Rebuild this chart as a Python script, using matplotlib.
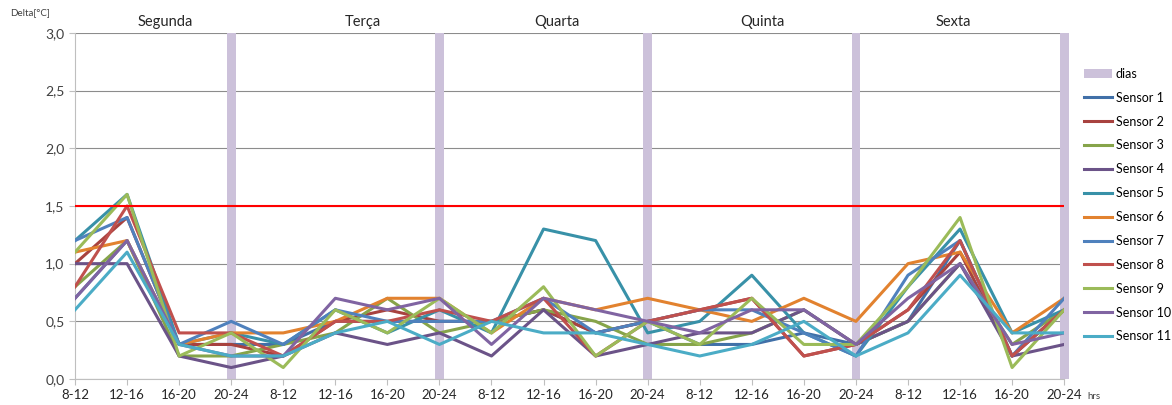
import matplotlib
matplotlib.use("Agg")
import matplotlib.pyplot as plt
import numpy as np

plt.rcParams['font.family'] = ['Lato', 'DejaVu Sans']

# Faixas horárias (4 por dia) e dias da semana
horas = ['8-12', '12-16', '16-20', '20-24']
dias = ['Segunda', 'Terça', 'Quarta', 'Quinta', 'Sexta']
categorias = horas * len(dias)

# Delta de temperatura por sensor [°C]
sensor_1 = [0.7, 1.2, 0.3, 0.3, 0.3, 0.5, 0.5, 0.5, 0.5, 0.6, 0.4, 0.5, 0.3, 0.3, 0.4, 0.3, 0.5, 1.2, 0.2, 0.6]
sensor_2 = [1.0, 1.4, 0.3, 0.3, 0.2, 0.5, 0.6, 0.5, 0.5, 0.6, 0.4, 0.5, 0.6, 0.7, 0.2, 0.3, 0.6, 1.1, 0.2, 0.6]
sensor_3 = [0.8, 1.2, 0.2, 0.2, 0.3, 0.4, 0.7, 0.4, 0.5, 0.6, 0.5, 0.3, 0.3, 0.4, 0.6, 0.3, 0.5, 1.0, 0.3, 0.6]
sensor_4 = [1.0, 1.0, 0.2, 0.1, 0.2, 0.4, 0.3, 0.4, 0.2, 0.6, 0.2, 0.3, 0.4, 0.4, 0.6, 0.3, 0.5, 1.0, 0.2, 0.3]
sensor_5 = [1.2, 1.6, 0.3, 0.4, 0.3, 0.6, 0.4, 0.6, 0.4, 1.3, 1.2, 0.4, 0.5, 0.9, 0.4, 0.2, 0.8, 1.3, 0.4, 0.6]
sensor_6 = [1.1, 1.2, 0.3, 0.4, 0.4, 0.5, 0.7, 0.7, 0.4, 0.7, 0.6, 0.7, 0.6, 0.5, 0.7, 0.5, 1.0, 1.1, 0.4, 0.7]
sensor_7 = [1.2, 1.4, 0.3, 0.5, 0.3, 0.6, 0.5, 0.5, 0.5, 0.7, 0.4, 0.5, 0.6, 0.6, 0.4, 0.2, 0.9, 1.2, 0.2, 0.7]
sensor_8 = [0.8, 1.5, 0.4, 0.4, 0.2, 0.5, 0.5, 0.6, 0.5, 0.7, 0.2, 0.5, 0.6, 0.7, 0.2, 0.3, 0.6, 1.2, 0.2, 0.6]
sensor_9 = [1.1, 1.6, 0.2, 0.4, 0.1, 0.6, 0.4, 0.7, 0.4, 0.8, 0.2, 0.5, 0.3, 0.7, 0.3, 0.3, 0.8, 1.4, 0.1, 0.6]
sensor_10 = [0.7, 1.2, 0.3, 0.2, 0.2, 0.7, 0.6, 0.7, 0.3, 0.7, 0.6, 0.5, 0.4, 0.6, 0.6, 0.3, 0.7, 1.0, 0.3, 0.4]
sensor_11 = [0.6, 1.1, 0.3, 0.2, 0.2, 0.4, 0.5, 0.3, 0.5, 0.4, 0.4, 0.3, 0.2, 0.3, 0.5, 0.2, 0.4, 0.9, 0.4, 0.4]

sensores = [sensor_1, sensor_2, sensor_3, sensor_4, sensor_5, sensor_6,
            sensor_7, sensor_8, sensor_9, sensor_10, sensor_11]
cores = ['#4170A8', '#A8423F', '#86A44A', '#6B5388', '#3891A8', '#E2822F',
         '#4F81BD', '#C0504D', '#9BBB59', '#8064A2', '#4BACC6']

limite = 1.5      # limite admissível
altura_dias = 3.0  # barras separadoras dos dias
yticks = [0.0, 0.5, 1.0, 1.5, 2.0, 2.5, 3.0]

x = np.arange(len(categorias))

fig = plt.figure(figsize=(11.72, 4.05), dpi=100)
ax = fig.add_axes([0.064, 0.064, 0.844, 0.855])

# separadores dos dias (barras no 20-24)
pos_dias = [i for i in x if categorias[i] == '20-24']
barras = ax.bar(pos_dias, [altura_dias] * len(pos_dias), width=0.17, color='#CCC1DA',
                label='dias', zorder=1, clip_on=False)

linhas = []
for k, (s, c) in enumerate(zip(sensores, cores)):
    l, = ax.plot(x, s, color=c, lw=2.2, label='Sensor %d' % (k + 1), zorder=3)
    linhas.append(l)

ax.axhline(limite, color='#FF0000', lw=1.5, zorder=4)

ax.set_xlim(0, len(categorias) - 1)
ax.set_ylim(0, 3.0)
ax.set_yticks(yticks)
ax.set_yticklabels([('%.1f' % v).replace('.', ',') for v in yticks])
ax.set_xticks(x)
ax.set_xticklabels(categorias, fontsize=9.5)
ax.tick_params(axis='y', labelsize=10, length=4, color='#BFBFBF', labelcolor='#404040')
ax.tick_params(axis='x', length=4, color='#BFBFBF', labelcolor='#262626')
ax.yaxis.grid(True, color='#8C8C8C', lw=0.8, zorder=0)
ax.set_axisbelow(True)
for lado in ['right', 'top']:
    ax.spines[lado].set_visible(False)
for lado in ['left', 'bottom']:
    ax.spines[lado].set_color('#BFBFBF')

# nomes dos dias acima do gráfico
pos_nomes = [1.73, 5.53, 9.26, 13.2, 16.87]
for p, d in zip(pos_nomes, dias):
    ax.text(p, 3.03, d, ha='center', va='bottom', fontsize=10.5, color='#262626')

fig.text(0.009, 0.97, 'Delta[°C]', fontsize=7, color='#404040', va='center')
fig.text(0.928, 0.022, 'hrs', fontsize=7, color='#404040', va='center')

fig.legend([barras] + linhas, ['dias'] + ['Sensor %d' % (k + 1) for k in range(len(sensores))],
           loc='upper left', bbox_to_anchor=(0.921, 0.845), frameon=False,
           fontsize=9, labelspacing=0.95, handlelength=2.2, handletextpad=0.3,
           borderaxespad=0)

fig.savefig('out.png', dpi=100)
